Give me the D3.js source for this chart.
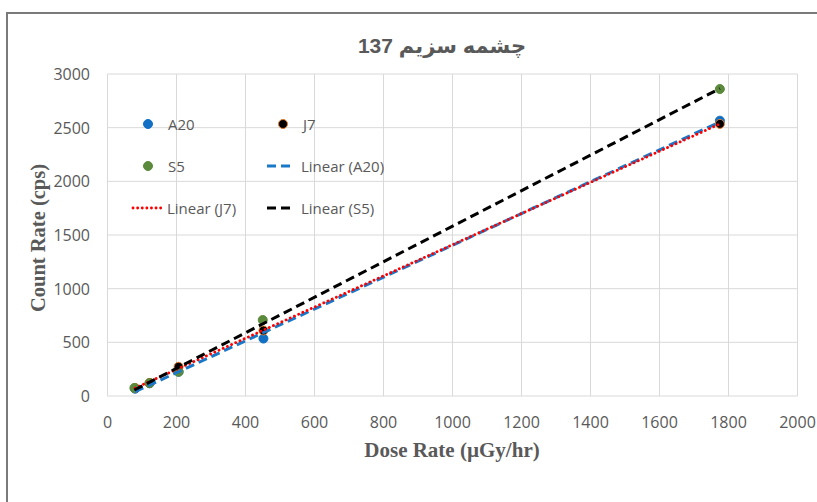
<!DOCTYPE html>
<html><head><meta charset="utf-8">
<script src="https://cdn.jsdelivr.net/npm/d3@7"></script>
<style>body{margin:0;background:#fff}</style>
</head><body>
<svg id="c" width="817" height="502"></svg>
<script>
const xTicks = [0,200,400,600,800,1000,1200,1400,1600,1800,2000];
const yTicks = [0,500,1000,1500,2000,2500,3000];
const doseA20 = [80,122,206,452,1775];
const countA20 = [68,118,226,535,2565];
const doseJ7 = [80,122,206,452,1775];
const countJ7 = [75,122,272,610,2535];
const doseS5 = [78,122,206,450,1775];
const countS5 = [75,120,226,708,2860];
const title = "چشمه سزیم 137";
const xTitle = "Dose Rate (µGy/hr)";
const yTitle = "Count Rate (cps)";

const svg = d3.select("#c");
const gray = "#595959";
svg.append("rect").attr("x",7).attr("y",13).attr("width",900).attr("height",600)
  .attr("fill","#fff").attr("stroke","#7a7a7a").attr("stroke-width",2);

const x = d3.scaleLinear().domain([0,2000]).range([107.5,797.5]);
const y = d3.scaleLinear().domain([0,3000]).range([396,74]);

const g = svg.append("g");
g.selectAll(".vg").data(xTicks).join("line")
  .attr("x1",d=>x(d)).attr("x2",d=>x(d)).attr("y1",y(0)).attr("y2",y(3000))
  .attr("stroke","#d9d9d9").attr("stroke-width",1);
g.selectAll(".hg").data(yTicks).join("line")
  .attr("x1",x(0)).attr("x2",x(2000)).attr("y1",d=>y(d)).attr("y2",d=>y(d))
  .attr("stroke","#d9d9d9").attr("stroke-width",1);

const tickFont = "'Open Sans', sans-serif";
g.selectAll(".xt").data(xTicks).join("text")
  .attr("x",d=>x(d)).attr("y",428).attr("text-anchor","middle")
  .attr("font-family",tickFont).attr("font-size",16).attr("fill",gray).text(d=>d);
g.selectAll(".yt").data(yTicks).join("text")
  .attr("x",90).attr("y",d=>y(d)+6).attr("text-anchor","end")
  .attr("font-family",tickFont).attr("font-size",16).attr("fill",gray).text(d=>d);

svg.append("text").attr("x",442).attr("y",53).attr("text-anchor","middle")
  .attr("direction","rtl")
  .attr("font-family","'Liberation Sans','DejaVu Sans',sans-serif").attr("font-weight","bold")
  .attr("font-size",21).attr("letter-spacing","-0.3").attr("fill",gray).text(title);
svg.append("text").attr("x",452).attr("y",457).attr("text-anchor","middle")
  .attr("font-family","'Liberation Serif',serif").attr("font-weight","bold")
  .attr("font-size",21).attr("fill",gray).text(xTitle);
svg.append("text").attr("transform","translate(45,238) rotate(-90)").attr("text-anchor","middle")
  .attr("font-family","'Liberation Serif',serif").attr("font-weight","bold")
  .attr("font-size",20.5).attr("fill",gray).text(yTitle);

function fit(xs, ys){
  const n = xs.length, mx = d3.mean(xs), my = d3.mean(ys);
  let sxy=0, sxx=0;
  for(let i=0;i<n;i++){sxy+=(xs[i]-mx)*(ys[i]-my); sxx+=(xs[i]-mx)**2;}
  const b = sxy/sxx, a = my-b*mx;
  const x0 = d3.min(xs), x1 = d3.max(xs);
  return [[x0,a+b*x0],[x1,a+b*x1]];
}
const series = [
  {name:"A20", xs:doseA20, ys:countA20, fill:"#1170c4", stroke:"#1170c4", line:"#1a78c8", dash:"9,5", w:3, cap:"butt"},
  {name:"J7", xs:doseJ7, ys:countJ7, fill:"#000", stroke:"#e07b2a", line:"#ff0000", dash:"0.1,4.5", w:2.8, cap:"round"},
  {name:"S5", xs:doseS5, ys:countS5, fill:"#5b8a3c", stroke:"#5b8a3c", line:"#000", dash:"9,5", w:3, cap:"butt"}
];
const plotG = svg.append("g");
series.forEach(s=>{
  plotG.selectAll(null).data(s.xs.map((v,i)=>[v,s.ys[i]])).join("circle")
    .attr("cx",d=>x(d[0])).attr("cy",d=>y(d[1])).attr("r",4.5)
    .attr("fill",s.fill).attr("stroke",s.stroke).attr("stroke-width",1);
});
const ln = d3.line().x(d=>x(d[0])).y(d=>y(d[1]));
series.forEach(s=>{
  plotG.append("path").attr("d",ln(fit(s.xs,s.ys))).attr("fill","none")
    .attr("stroke",s.line).attr("stroke-width",s.w).attr("stroke-dasharray",s.dash)
    .attr("stroke-linecap",s.cap);
});

const legFont = "'Open Sans', sans-serif";
const leg = svg.append("g");
const items = [
  {t:"marker", s:series[0], x:148, y:124, label:"A20"},
  {t:"marker", s:series[1], x:283, y:124, label:"J7"},
  {t:"marker", s:series[2], x:148, y:166, label:"S5"},
  {t:"line", s:series[0], x:281, y:166, label:"Linear (A20)"},
  {t:"line", s:series[1], x:147, y:208, label:"Linear (J7)"},
  {t:"line", s:series[2], x:281, y:208, label:"Linear (S5)"}
];
items.forEach(it=>{
  if(it.t==="marker"){
    leg.append("circle").attr("cx",it.x).attr("cy",it.y).attr("r",4.5)
      .attr("fill",it.s.fill).attr("stroke",it.s.stroke).attr("stroke-width",1);
  } else {
    leg.append("line").attr("x1",it.x-14).attr("x2",it.x+14).attr("y1",it.y).attr("y2",it.y)
      .attr("stroke",it.s.line).attr("stroke-width",it.s.w).attr("stroke-dasharray",it.s.dash)
      .attr("stroke-linecap",it.s.cap);
  }
  leg.append("text").attr("x",it.x+20).attr("y",it.y+5.5)
    .attr("font-family",legFont).attr("font-size",15).attr("fill",gray).text(it.label);
});
</script>
</body></html>
